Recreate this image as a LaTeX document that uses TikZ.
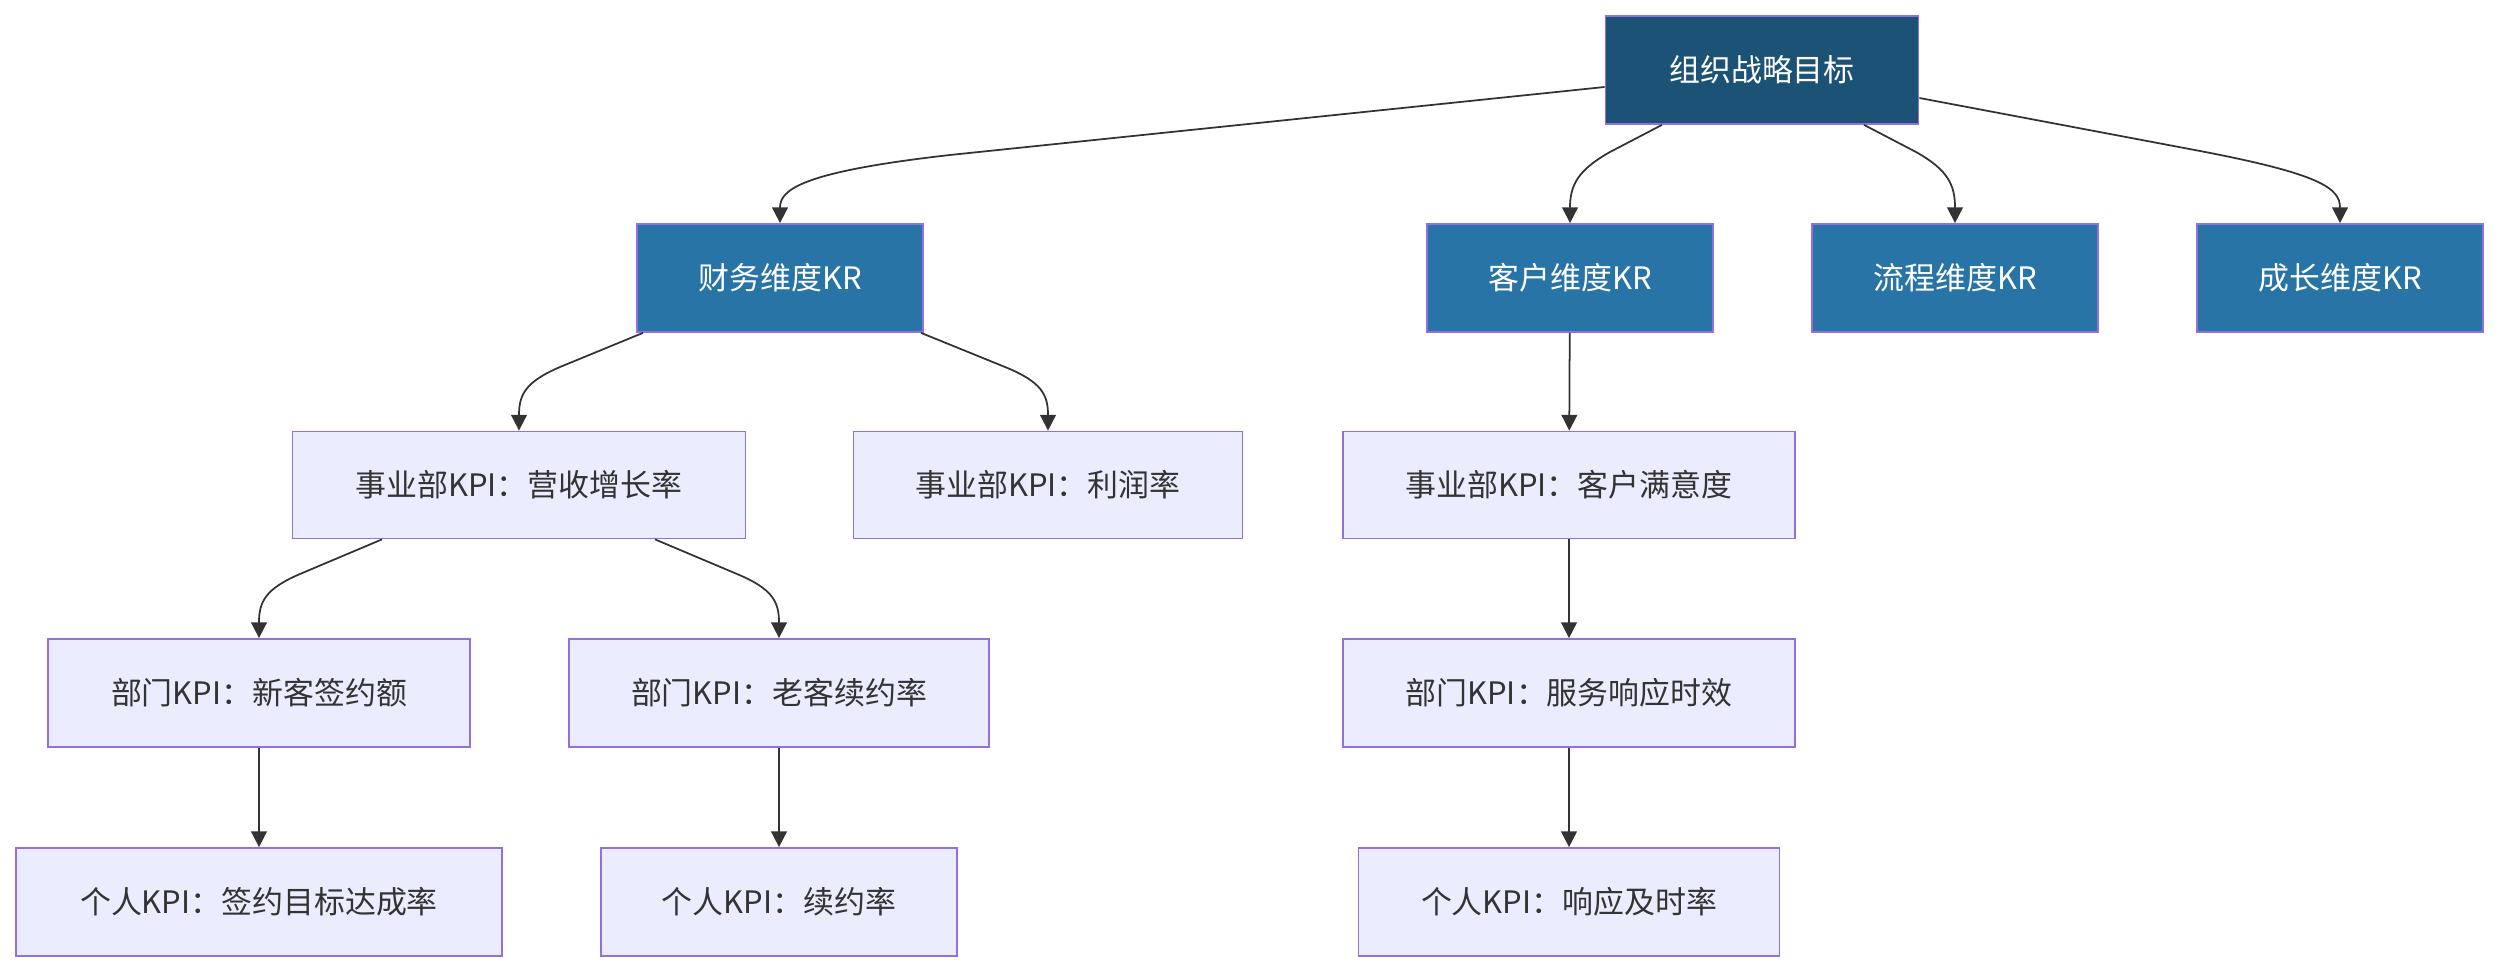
\documentclass[tikz,border=0pt]{standalone}
\usepackage{fontspec}
\setmainfont{Noto Sans CJK SC}
\usetikzlibrary{arrows.meta}
\definecolor{rootfill}{HTML}{1B5276}
\definecolor{krfill}{HTML}{2874A6}
\definecolor{kpifill}{HTML}{ECECFF}
\definecolor{bord}{HTML}{9370DB}
\definecolor{ink}{HTML}{333333}
\begin{document}
\begin{tikzpicture}[x=0.02cm,y=-0.02cm,
  box/.style={draw=bord,line width=1pt,inner sep=0pt,anchor=center,
    font=\fontsize{17.6}{20}\selectfont},
  rootbox/.style={box,fill=rootfill,text=white},
  krbox/.style={box,fill=krfill,text=white},
  kpibox/.style={box,fill=kpifill,text=ink},
  arr/.style={draw=ink,line width=1pt,-{Triangle[length=9pt,width=9pt]}}]
\useasboundingbox (0,0) rectangle (2498,972);
% nodes
\node[rootbox,minimum width=313*0.02cm,minimum height=108*0.02cm] (root) at (1762,70) {组织战略目标};
\node[krbox,minimum width=286*0.02cm,minimum height=108*0.02cm] (fin) at (780,278) {财务维度KR};
\node[krbox,minimum width=286*0.02cm,minimum height=108*0.02cm] (cus) at (1570,278) {客户维度KR};
\node[krbox,minimum width=286*0.02cm,minimum height=108*0.02cm] (pro) at (1955,278) {流程维度KR};
\node[krbox,minimum width=286*0.02cm,minimum height=108*0.02cm] (gro) at (2340,278) {成长维度KR};
\node[kpibox,minimum width=453*0.02cm,minimum height=107*0.02cm] (rev) at (519,485) {事业部KPI：营收增长率};
\node[kpibox,minimum width=389*0.02cm,minimum height=107*0.02cm] (pft) at (1048,485) {事业部KPI：利润率};
\node[kpibox,minimum width=452*0.02cm,minimum height=107*0.02cm] (sat) at (1569,485) {事业部KPI：客户满意度};
\node[kpibox,minimum width=422*0.02cm,minimum height=108*0.02cm] (newc) at (259,693) {部门KPI：新客签约额};
\node[kpibox,minimum width=420*0.02cm,minimum height=108*0.02cm] (oldc) at (779,693) {部门KPI：老客续约率};
\node[kpibox,minimum width=452*0.02cm,minimum height=108*0.02cm] (svc) at (1569,693) {部门KPI：服务响应时效};
\node[kpibox,minimum width=486*0.02cm,minimum height=108*0.02cm] (sign) at (259,902) {个人KPI：签约目标达成率};
\node[kpibox,minimum width=356*0.02cm,minimum height=108*0.02cm] (renew) at (779,902) {个人KPI：续约率};
\node[kpibox,minimum width=421*0.02cm,minimum height=108*0.02cm] (resp) at (1569,902) {个人KPI：响应及时率};
% edges
\draw[arr] (root.west |- 0,87) -- (950,155) .. controls (800,172) and (780,190) .. (fin.north);
\draw[arr] (root.south -| 1662,0) -- (1610,152) .. controls (1578,170) and (1570,185) .. (cus.north);
\draw[arr] (root.south -| 1864,0) -- (1916,152) .. controls (1948,170) and (1955,185) .. (pro.north);
\draw[arr] (root.east |- 0,98) -- (2200,151) .. controls (2320,174) and (2340,188) .. (gro.north);
\draw[arr] (fin.south -| 643,0) -- (560,367) .. controls (525,382) and (519,395) .. (rev.north);
\draw[arr] (fin.south -| 921,0) -- (1005,367) .. controls (1042,382) and (1048,395) .. (pft.north);
\draw[arr] (cus) -- (sat);
\draw[arr] (rev.south -| 382,0) -- (300,574) .. controls (265,589) and (259,602) .. (newc.north);
\draw[arr] (rev.south -| 655,0) -- (737,574) .. controls (773,589) and (779,602) .. (oldc.north);
\draw[arr] (sat) -- (svc);
\draw[arr] (newc) -- (sign);
\draw[arr] (oldc) -- (renew);
\draw[arr] (svc) -- (resp);
\end{tikzpicture}
\end{document}
